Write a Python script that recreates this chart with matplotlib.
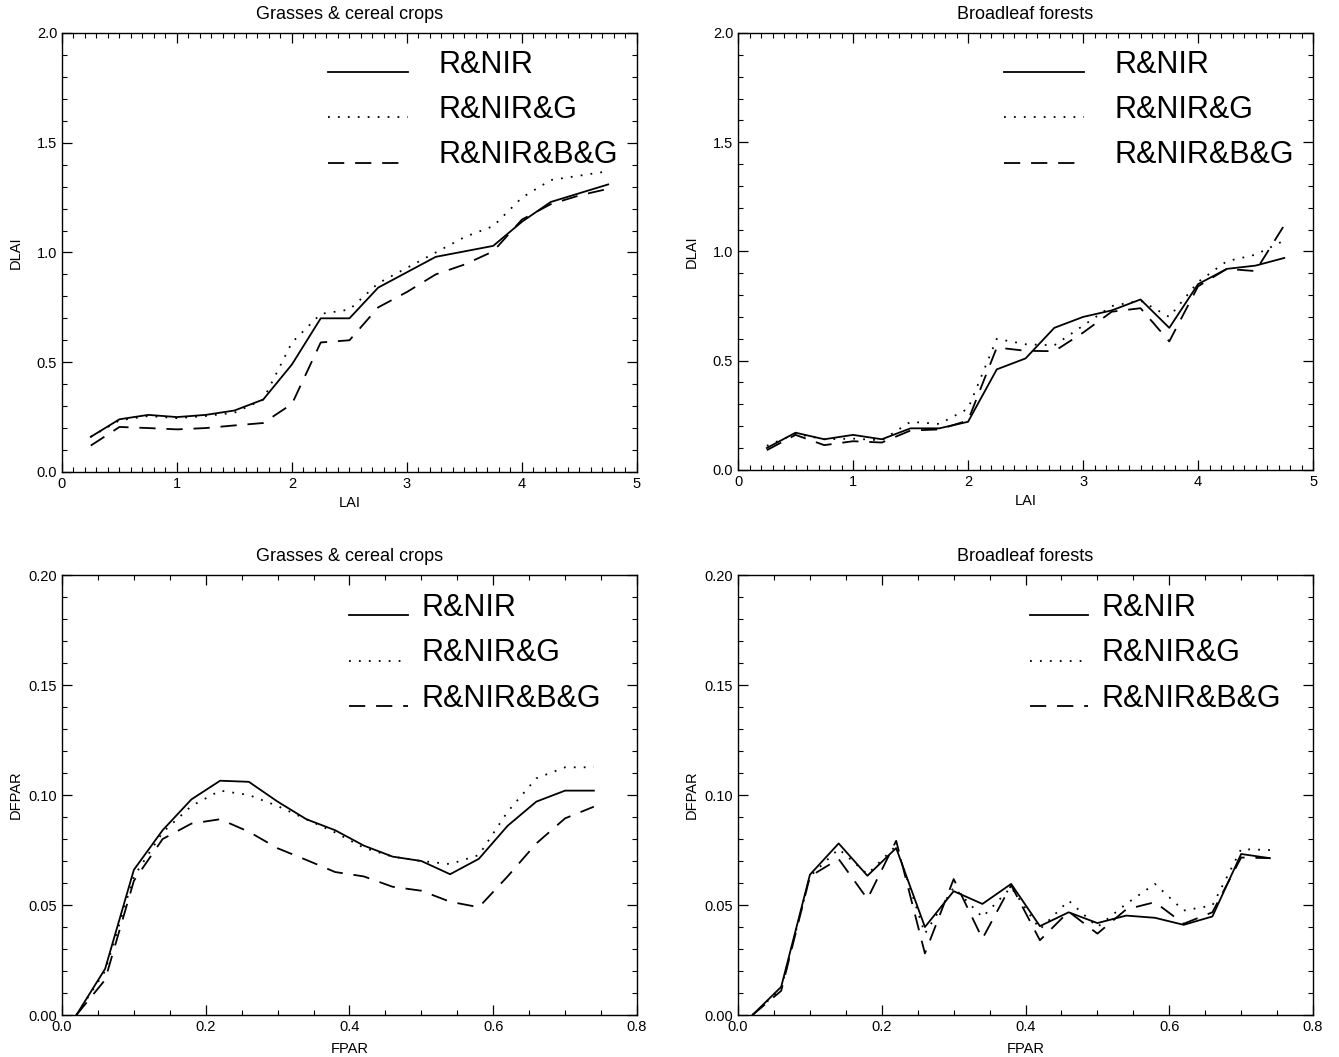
import matplotlib
matplotlib.use('Agg')
import numpy as np
import matplotlib.pyplot as plt
from matplotlib.ticker import MultipleLocator, FormatStrFormatter
from matplotlib.legend_handler import HandlerLine2D

plt.rcParams['font.family'] = ['Liberation Sans', 'DejaVu Sans']

# x positions
lai = [0.25, 0.50, 0.75, 1.00, 1.25, 1.50, 1.75, 2.00, 2.25, 2.50,
       2.75, 3.00, 3.25, 3.50, 3.75, 4.00, 4.25, 4.50, 4.75]
fpar = [0.02, 0.06, 0.10, 0.14, 0.18, 0.22, 0.26, 0.30, 0.34, 0.38,
        0.42, 0.46, 0.50, 0.54, 0.58, 0.62, 0.66, 0.70, 0.74]

# Grasses & cereal crops, DLAI
grass_dlai_rnir = [0.16, 0.24, 0.26, 0.25, 0.26, 0.28, 0.33, 0.49, 0.70, 0.70,
                   0.84, 0.91, 0.98, 1.005, 1.03, 1.14, 1.23, 1.27, 1.31]
grass_dlai_rnirg = [0.16, 0.235, 0.255, 0.245, 0.255, 0.27, 0.33, 0.59, 0.72, 0.74,
                    0.86, 0.93, 1.00, 1.07, 1.12, 1.25, 1.33, 1.35, 1.37]
grass_dlai_rnirbg = [0.12, 0.205, 0.20, 0.194, 0.20, 0.212, 0.223, 0.31, 0.59, 0.60,
                     0.75, 0.82, 0.90, 0.945, 1.005, 1.15, 1.22, 1.26, 1.29]

# Broadleaf forests, DLAI
broad_dlai_rnir = [0.10, 0.17, 0.14, 0.16, 0.14, 0.19, 0.19, 0.22, 0.46, 0.51,
                   0.65, 0.70, 0.73, 0.78, 0.65, 0.85, 0.92, 0.935, 0.97]
broad_dlai_rnirg = [0.11, 0.165, 0.14, 0.143, 0.135, 0.22, 0.21, 0.28, 0.60, 0.575,
                    0.57, 0.66, 0.75, 0.775, 0.70, 0.86, 0.955, 0.985, 1.05]
broad_dlai_rnirbg = [0.09, 0.16, 0.113, 0.131, 0.125, 0.18, 0.185, 0.226, 0.56, 0.545,
                     0.543, 0.628, 0.724, 0.74, 0.588, 0.84, 0.92, 0.91, 1.12]

# Grasses & cereal crops, DFPAR
grass_dfpar_rnir = [0.0, 0.021, 0.066, 0.084, 0.098, 0.1065, 0.106, 0.097, 0.089, 0.084,
                    0.077, 0.072, 0.070, 0.064, 0.071, 0.086, 0.097, 0.102, 0.102]
grass_dfpar_rnirg = [0.0, 0.020, 0.063, 0.083, 0.095, 0.102, 0.100, 0.095, 0.089, 0.083,
                     0.076, 0.072, 0.070, 0.0686, 0.0727, 0.0924, 0.1076, 0.1126, 0.1126]
grass_dfpar_rnirbg = [0.0, 0.016, 0.061, 0.080, 0.087, 0.089, 0.0833, 0.0758, 0.0705, 0.065,
                      0.063, 0.0583, 0.0565, 0.0515, 0.049, 0.063, 0.078, 0.0894, 0.0947]

# Broadleaf forests, DFPAR
broad_dfpar_rnir = [0.0, 0.0128, 0.0638, 0.078, 0.0633, 0.0759, 0.040, 0.0563, 0.0505, 0.0596,
                    0.0404, 0.0467, 0.0418, 0.0452, 0.0442, 0.041, 0.0448, 0.0732, 0.0713]
broad_dfpar_rnirg = [0.0, 0.012, 0.063, 0.0755, 0.064, 0.077, 0.037, 0.058, 0.0445, 0.058,
                     0.039, 0.052, 0.040, 0.0505, 0.0596, 0.0475, 0.0498, 0.0754, 0.075]
broad_dfpar_rnirbg = [0.0, 0.011, 0.063, 0.0709, 0.0528, 0.0792, 0.028, 0.0618, 0.0347, 0.059,
                      0.034, 0.047, 0.037, 0.048, 0.0513, 0.0415, 0.0467, 0.0716, 0.0713]

series_labels = ['R&NIR', 'R&NIR&G', 'R&NIR&B&G']
line_styles = ['-', (0, (1, 4.5)), (0, (9, 6))]


class LowLine(HandlerLine2D):
    # legend sample sits near the text baseline, as in the original figure
    def create_artists(self, legend, orig_handle, xdescent, ydescent,
                       width, height, fontsize, trans):
        artists = super().create_artists(legend, orig_handle, xdescent, ydescent,
                                         width, height, fontsize, trans)
        for a in artists:
            a.set_ydata(np.asarray(a.get_ydata()) - 0.33 * fontsize)
        return artists


def draw_panel(ax, x, curves, title, xlabel, ylabel, xlim, ylim,
               xmaj, xmin, ymaj, ymin, xfmt, yfmt, xlab_y, legend_kw):
    handles = []
    for y, ls, lab in zip(curves, line_styles, series_labels):
        h, = ax.plot(x, y, color='black', linestyle=ls, linewidth=1.3, label=lab)
        handles.append(h)
    ax.set_xlim(*xlim)
    ax.set_ylim(*ylim)
    ax.xaxis.set_major_locator(MultipleLocator(xmaj))
    ax.xaxis.set_minor_locator(MultipleLocator(xmin))
    ax.yaxis.set_major_locator(MultipleLocator(ymaj))
    ax.yaxis.set_minor_locator(MultipleLocator(ymin))
    ax.xaxis.set_major_formatter(FormatStrFormatter(xfmt))
    ax.yaxis.set_major_formatter(FormatStrFormatter(yfmt))
    ax.tick_params(which='both', direction='in', top=True, right=True, labelsize=10.5)
    ax.tick_params(which='major', length=7, width=0.9)
    ax.tick_params(which='minor', length=3.5, width=0.8)
    for s in ax.spines.values():
        s.set_linewidth(1.0)
    ax.set_title(title, fontsize=13, pad=10)
    ax.set_xlabel(xlabel, fontsize=10.5)
    ax.set_ylabel(ylabel, fontsize=10.5)
    ax.xaxis.set_label_coords(0.5, xlab_y)
    ax.yaxis.set_label_coords(-0.068, 0.5)
    ax.legend(handles=handles, loc='upper left', frameon=False, fontsize=22,
              borderpad=0, borderaxespad=0, labelspacing=0.5,
              handler_map={h: LowLine() for h in handles}, **legend_kw)


fig = plt.figure(figsize=(13.39, 10.57), dpi=100)
ax_tl = fig.add_axes([0.0463, 0.5535, 0.4294, 0.4153])
ax_tr = fig.add_axes([0.5512, 0.5555, 0.4294, 0.4133])
ax_bl = fig.add_axes([0.0463, 0.0397, 0.4294, 0.4163])
ax_br = fig.add_axes([0.5512, 0.0397, 0.4294, 0.4163])

top_leg = dict(bbox_to_anchor=(0.463, 0.962), handlelength=2.6, handletextpad=1.0)
bot_leg = dict(bbox_to_anchor=(0.50, 0.959), handlelength=1.9, handletextpad=0.45)

draw_panel(ax_tl, lai, [grass_dlai_rnir, grass_dlai_rnirg, grass_dlai_rnirbg],
           'Grasses & cereal crops', 'LAI', 'DLAI', (0, 5), (0, 2),
           1, 0.1, 0.5, 0.1, '%d', '%.1f', -0.055, top_leg)
draw_panel(ax_tr, lai, [broad_dlai_rnir, broad_dlai_rnirg, broad_dlai_rnirbg],
           'Broadleaf forests', 'LAI', 'DLAI', (0, 5), (0, 2),
           1, 0.1, 0.5, 0.1, '%d', '%.1f', -0.055, top_leg)
draw_panel(ax_bl, fpar, [grass_dfpar_rnir, grass_dfpar_rnirg, grass_dfpar_rnirbg],
           'Grasses & cereal crops', 'FPAR', 'DFPAR', (0, 0.8), (0, 0.2),
           0.2, 0.05, 0.05, 0.01, '%.1f', '%.2f', -0.062, bot_leg)
draw_panel(ax_br, fpar, [broad_dfpar_rnir, broad_dfpar_rnirg, broad_dfpar_rnirbg],
           'Broadleaf forests', 'FPAR', 'DFPAR', (0, 0.8), (0, 0.2),
           0.2, 0.05, 0.05, 0.01, '%.1f', '%.2f', -0.062,
           dict(bot_leg, bbox_to_anchor=(0.508, 0.959)))

fig.savefig('out.png', dpi=100)
